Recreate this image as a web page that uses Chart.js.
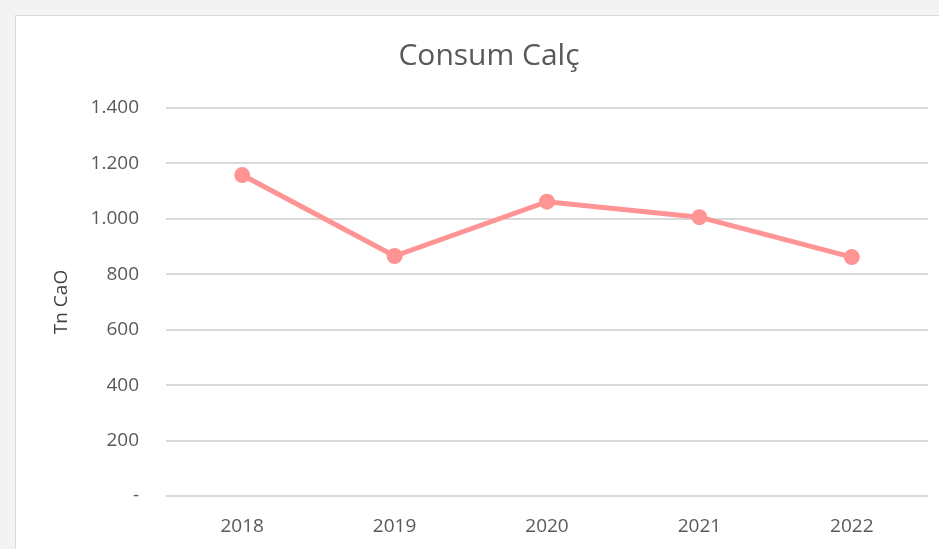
<!DOCTYPE html>
<html>
<head>
<meta charset="utf-8">
<script src="https://cdn.jsdelivr.net/npm/chart.js@4"></script>
<style>
html,body{margin:0;padding:0;background:#f3f3f3;width:939px;height:549px;overflow:hidden}
#frame{position:absolute;left:15px;top:15px;width:940px;height:550px;background:#fff;border:1px solid #d9d9d9;box-sizing:border-box}
#wrap{position:absolute;left:0;top:0;width:939px;height:549px}
</style>
</head>
<body>
<div id="frame"></div>
<div id="wrap"><canvas id="mychart" width="939" height="549"></canvas></div>
<script>
// Consum de calç per any
var years = ['2018','2019','2020','2021','2022']
var consum = [1158,866,1062,1006,862]
var yTicks = [0,200,400,600,800,1000,1200,1400]

function fmt(v){
  if(v===0) return '-'
  return v.toString().replace(/\B(?=(\d{3})+(?!\d))/g,'.')
}

var ctx = document.getElementById('mychart').getContext('2d')
var chart = new Chart(ctx,{
  type:'line',
  data:{
    labels:years,
    datasets:[{
      label:'Consum',
      data:consum,
      borderColor:'#ff9494',
      backgroundColor:'#ff9494',
      borderWidth:5,
      pointRadius:5.5,
      pointHoverRadius:5.5,
      tension:0
    }]
  },
  options:{
    responsive:false,
    animation:false,
    layout:{padding:{left:50,right:11,top:30,bottom:0}},
    plugins:{
      legend:{display:false},
      tooltip:{enabled:false},
      title:{
        display:true,
        text:'Consum Calç',
        color:'#595959',
        font:{family:'Open Sans',size:30,weight:'normal'},
        padding:{top:8,bottom:34}
      }
    },
    scales:{
      x:{
        offset:true,
        afterFit:function(s){ s.height = 53 },
        grid:{display:false,drawTicks:false},
        border:{display:false},
        ticks:{color:'#595959',font:{family:'Open Sans',size:19},padding:19}
      },
      y:{
        min:0,max:1400,
        afterBuildTicks:function(s){ s.ticks = yTicks.map(function(v){return {value:v}}) },
        afterFit:function(s){ s.width = 166-50 },
        grid:{color:'#d9d9d9',lineWidth:2,drawTicks:false},
        border:{display:false},
        title:{display:true,text:'Tn CaO',color:'#404040',font:{family:'Open Sans',size:19},padding:0},
        ticks:{color:'#595959',font:{family:'Open Sans',size:19},padding:27,callback:function(v){return fmt(v)}}
      }
    }
  }
})
</script>
</body>
</html>
